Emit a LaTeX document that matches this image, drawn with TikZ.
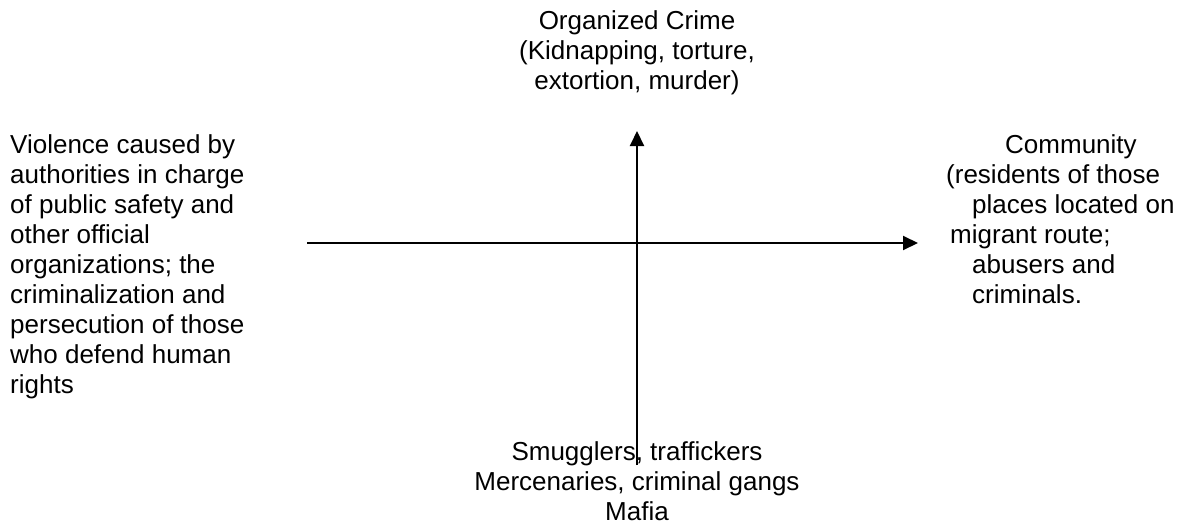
\documentclass[tikz,border=0pt]{standalone}
\usepackage{fontspec}
\setmainfont{Liberation Sans}
\usetikzlibrary{arrows.meta}
\tikzset{label text/.style={inner sep=0pt,font=\fontsize{26}{30}\selectfont},
         axis line/.style={line width=2pt,-{Triangle[length=15pt,width=14pt]}},
            }

\begin{document}
\begin{tikzpicture}[x=1pt,y=-1pt]
    \useasboundingbox (0,0) rectangle (1183,525);

    \node[label text,align=left,anchor=base west] (state) at (10,393)
        {Violence caused by\\authorities in charge\\of public safety and\\other official\\organizations; the\\criminalization and\\persecution of those\\who defend human\\rights};
    \node[label text,align=left,anchor=base west] (community) at (946,303)
        {\hspace*{59pt}Community\\(residents of those\\\hspace*{26pt}places located on\\\hspace*{4pt}migrant route;\\\hspace*{26pt}abusers and\\\hspace*{26pt}criminals.};
    \node[label text,align=center,anchor=base] (crime) at (637,89)
        {Organized Crime\\(Kidnapping, torture,\\extortion, murder)};
    \node[label text,align=center,anchor=base] (gangs) at (637,520)
        {Smugglers, traffickers\\Mercenaries, criminal gangs\\Mafia};

    \coordinate (west end) at (307,243);
    \coordinate (east end) at (918,243);
    \coordinate (south end) at (637,465);
    \coordinate (north end) at (637,131);

    \draw[axis line] (west end) -- (east end);
    \draw[axis line] (south end) -- (north end);

\end{tikzpicture}
\end{document}
